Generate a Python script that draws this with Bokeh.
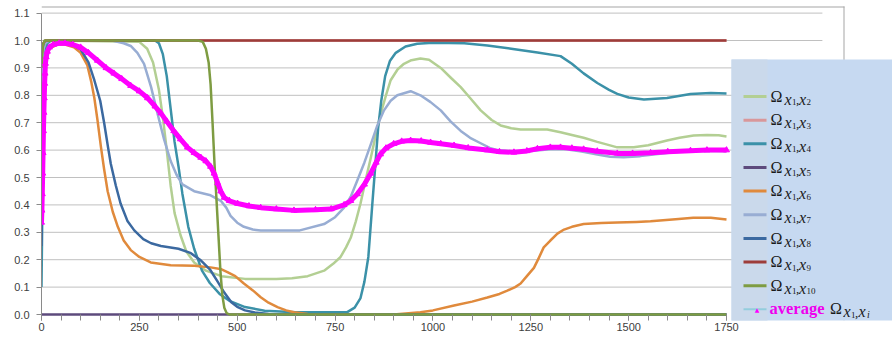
from bokeh.plotting import figure
from bokeh.models import Range1d, FixedTicker, Label, BoxAnnotation, NumeralTickFormatter
from bokeh.embed import file_html
from bokeh.resources import INLINE

# ---------------- data (time step, Omega value) ----------------
x_ticks = [0, 250, 500, 750, 1000, 1250, 1500, 1750]
x_minor = list(range(0, 1751, 50))
y_ticks = [0.0, 0.1, 0.2, 0.3, 0.4, 0.5, 0.6, 0.7, 0.8, 0.9, 1.0, 1.1]

omega_x2 = [(0, 0.82), (5, 0.95), (10, 0.99), (20, 1.0), (250, 0.995), (270, 0.97), (285, 0.92), (300, 0.82),
            (310, 0.72), (320, 0.6), (330, 0.47), (340, 0.37), (355, 0.29), (370, 0.23), (390, 0.19), (420, 0.16),
            (460, 0.14), (520, 0.13), (600, 0.13), (640, 0.132), (680, 0.14), (722, 0.16), (745, 0.185),
            (764, 0.21), (778, 0.245), (790, 0.28), (803, 0.34), (815, 0.405), (828, 0.49), (841, 0.57),
            (854, 0.655), (866, 0.73), (880, 0.8), (892, 0.855), (910, 0.895), (926, 0.915), (945, 0.928),
            (968, 0.934), (990, 0.93), (1020, 0.9), (1045, 0.865), (1071, 0.83), (1095, 0.79), (1122, 0.745),
            (1150, 0.71), (1173, 0.69), (1200, 0.68), (1224, 0.675), (1292, 0.675), (1326, 0.665), (1355, 0.655),
            (1385, 0.645), (1420, 0.63), (1471, 0.61), (1513, 0.61), (1550, 0.618), (1598, 0.635), (1630, 0.645),
            (1666, 0.653), (1700, 0.655), (1730, 0.654), (1750, 0.65)]
omega_x3 = [(0, 0.95), (5, 0.99), (10, 1.0), (1750, 1.0)]
omega_x4 = [(0, 0.1), (3, 0.5), (6, 0.85), (10, 0.96), (15, 0.99), (25, 1.0), (290, 1.0), (300, 0.99), (310, 0.95),
            (320, 0.87), (330, 0.75), (340, 0.63), (350, 0.54), (360, 0.44), (375, 0.32), (390, 0.24), (410, 0.16),
            (430, 0.115), (455, 0.075), (480, 0.05), (520, 0.027), (570, 0.014), (650, 0.008), (780, 0.008),
            (800, 0.025), (815, 0.06), (825, 0.12), (835, 0.21), (845, 0.4), (852, 0.53), (860, 0.68), (868, 0.78),
            (878, 0.87), (890, 0.925), (905, 0.955), (930, 0.978), (960, 0.988), (1000, 0.992), (1080, 0.99),
            (1139, 0.982), (1200, 0.97), (1267, 0.956), (1326, 0.943), (1355, 0.915), (1385, 0.88), (1420, 0.845),
            (1450, 0.82), (1471, 0.805), (1500, 0.792), (1539, 0.785), (1598, 0.79), (1658, 0.805), (1710, 0.808),
            (1750, 0.807)]
omega_x5 = [(0, 0.0), (1750, 0.0)]
omega_x6 = [(0, 0.35), (5, 0.8), (10, 0.93), (20, 0.97), (40, 0.985), (60, 0.985), (83, 0.975), (100, 0.955),
            (117, 0.91), (127, 0.85), (135, 0.79), (143, 0.71), (152, 0.61), (160, 0.53), (169, 0.45), (182, 0.375),
            (195, 0.32), (210, 0.27), (228, 0.235), (250, 0.21), (279, 0.19), (330, 0.18), (390, 0.178),
            (432, 0.172), (460, 0.165), (475, 0.155), (495, 0.14), (517, 0.113), (540, 0.088), (560, 0.063),
            (580, 0.043), (603, 0.027), (625, 0.015), (645, 0.008), (680, 0.002), (720, 0.0), (900, 0.0),
            (968, 0.008), (1000, 0.015), (1054, 0.033), (1100, 0.047), (1139, 0.062), (1170, 0.075), (1190, 0.087),
            (1210, 0.1), (1224, 0.113), (1240, 0.14), (1258, 0.17), (1270, 0.205), (1283, 0.245), (1300, 0.27),
            (1318, 0.295), (1335, 0.31), (1355, 0.32), (1385, 0.33), (1430, 0.334), (1471, 0.336), (1520, 0.338),
            (1556, 0.34), (1620, 0.348), (1665, 0.353), (1710, 0.353), (1750, 0.347)]
omega_x7 = [(0, 0.85), (5, 0.97), (10, 0.99), (20, 1.0), (180, 1.0), (210, 0.99), (228, 0.98), (245, 0.955),
            (262, 0.915), (280, 0.83), (297, 0.73), (313, 0.64), (330, 0.56), (345, 0.51), (360, 0.475),
            (390, 0.45), (432, 0.435), (458, 0.415), (472, 0.39), (483, 0.36), (500, 0.335), (517, 0.32),
            (540, 0.31), (560, 0.307), (660, 0.307), (722, 0.33), (750, 0.355), (773, 0.39), (790, 0.43),
            (807, 0.49), (825, 0.555), (841, 0.62), (858, 0.69), (875, 0.745), (892, 0.78), (909, 0.8),
            (943, 0.815), (968, 0.8), (994, 0.775), (1020, 0.745), (1045, 0.705), (1071, 0.67), (1095, 0.645),
            (1122, 0.625), (1145, 0.608), (1165, 0.6), (1206, 0.595), (1250, 0.597), (1300, 0.603), (1340, 0.603),
            (1380, 0.595), (1420, 0.584), (1453, 0.576), (1487, 0.574), (1530, 0.578), (1580, 0.587),
            (1620, 0.593), (1658, 0.597), (1700, 0.598), (1750, 0.596)]
omega_x8 = [(0, 0.25), (5, 0.75), (10, 0.92), (20, 0.975), (40, 0.99), (70, 0.99), (100, 0.968), (120, 0.92),
            (135, 0.855), (150, 0.78), (160, 0.7), (170, 0.61), (177, 0.55), (190, 0.47), (202, 0.405),
            (220, 0.34), (237, 0.307), (260, 0.275), (280, 0.26), (305, 0.25), (350, 0.24), (380, 0.225),
            (405, 0.2), (430, 0.165), (450, 0.12), (467, 0.08), (485, 0.045), (500, 0.028), (520, 0.015),
            (545, 0.007), (580, 0.002), (620, 0.0), (1750, 0.0)]
omega_x9 = [(0, 0.95), (5, 0.99), (10, 1.0), (1750, 1.0)]
omega_x10 = [(0, 0.9), (3, 0.98), (8, 1.0), (400, 1.0), (412, 0.995), (420, 0.97), (427, 0.92), (432, 0.84),
             (437, 0.7), (442, 0.55), (447, 0.42), (452, 0.29), (457, 0.16), (462, 0.07), (467, 0.025),
             (473, 0.005), (480, 0.0), (1750, 0.0)]
omega_avg = [(0, 0.336), (1, 0.38), (2, 0.44), (3, 0.515), (4, 0.59), (5, 0.67), (6, 0.737), (7, 0.79),
             (8, 0.843), (9, 0.88), (10, 0.916), (12, 0.94), (15, 0.96), (20, 0.975), (30, 0.985), (45, 0.99),
             (60, 0.99), (80, 0.985), (100, 0.975), (120, 0.955), (143, 0.927), (165, 0.9), (185, 0.88),
             (205, 0.86), (228, 0.835), (250, 0.815), (271, 0.79), (290, 0.76), (305, 0.735), (320, 0.705),
             (338, 0.67), (355, 0.64), (373, 0.61), (390, 0.59), (407, 0.573), (420, 0.56), (432, 0.54),
             (441, 0.515), (450, 0.48), (458, 0.45), (467, 0.427), (480, 0.415), (501, 0.405), (530, 0.396),
             (560, 0.39), (600, 0.385), (645, 0.38), (700, 0.382), (740, 0.385), (773, 0.4), (790, 0.415),
             (807, 0.44), (825, 0.475), (841, 0.515), (855, 0.555), (866, 0.585), (880, 0.607), (900, 0.623),
             (920, 0.632), (943, 0.635), (970, 0.633), (994, 0.628), (1020, 0.623), (1054, 0.617), (1090, 0.608),
             (1139, 0.6), (1170, 0.594), (1207, 0.592), (1240, 0.597), (1267, 0.605), (1300, 0.61), (1326, 0.61),
             (1355, 0.607), (1385, 0.603), (1420, 0.596), (1471, 0.588), (1510, 0.588), (1556, 0.59),
             (1600, 0.594), (1658, 0.598), (1700, 0.6), (1750, 0.6)]

series_names = ["2", "3", "4", "5", "6", "7", "8", "9", "10"]
series_data = [omega_x2, omega_x3, omega_x4, omega_x5, omega_x6, omega_x7, omega_x8, omega_x9, omega_x10]
series_colors = ["#b3cf93", "#d9979a", "#3b91a8", "#5d4a7c", "#e08a3c", "#98add3", "#3b69a0", "#9d3d3a", "#7e9c42"]
avg_line_color = "#93cddd"
avg_marker_color = "#ff00ff"

# ---------------- figure ----------------
W, H = 892, 345
MB_LEFT, MB_RIGHT, MB_TOP, MB_BOTTOM = 41, 0, 0, 25
PX_PER_X = 0.39143        # screen px per time step
PX_PER_Y = 274.0          # screen px per unit of Omega
Y0_PAGE = 314             # page y of Omega = 0
frame_w = W - MB_LEFT - MB_RIGHT
frame_h = H - MB_TOP - MB_BOTTOM
y_start = -(MB_TOP + frame_h - Y0_PAGE) / PX_PER_Y
y_end = y_start + frame_h / PX_PER_Y
x_end = frame_w / PX_PER_X
grid_x_end = 1995          # where the horizontal grid lines stop

p = figure(width=W, height=H, output_backend="svg", toolbar_location=None,
           x_range=Range1d(0, x_end), y_range=Range1d(y_start, y_end),
           min_border_left=MB_LEFT, min_border_right=MB_RIGHT,
           min_border_top=MB_TOP, min_border_bottom=MB_BOTTOM)
p.outline_line_color = None
p.background_fill_color = "white"
p.border_fill_color = "white"
p.xgrid.visible = False
p.ygrid.visible = False

p.yaxis.ticker = FixedTicker(ticks=y_ticks)
p.xaxis.ticker = FixedTicker(ticks=x_ticks, minor_ticks=x_minor)
p.xaxis.bounds = (x_ticks[0], x_ticks[-1])
p.yaxis.bounds = (y_ticks[0], y_ticks[-1])
p.yaxis.formatter = NumeralTickFormatter(format="0.0")
axis_grey = "#8a8a8a"
for ax in (p.xaxis, p.yaxis):
    ax.axis_line_color = axis_grey
    ax.major_tick_line_color = axis_grey
    ax.minor_tick_line_color = axis_grey
    ax.major_label_text_font = "Liberation Sans"
    ax.major_label_text_font_size = "11px"
    ax.major_label_text_color = "#404040"
p.yaxis.minor_tick_line_color = None
p.yaxis.major_tick_in = 0
p.yaxis.major_tick_out = 5
p.yaxis.major_label_standoff = 7
# the x axis sits at the frame bottom, a few px below Omega = 0; its ticks reach up to the zero line
p.xaxis.axis_line_color = None
tick_len = int(MB_TOP + frame_h - Y0_PAGE)
p.xaxis.major_tick_in = tick_len
p.xaxis.major_tick_out = 0
p.xaxis.minor_tick_in = tick_len
p.xaxis.minor_tick_out = 0
p.xaxis.major_label_standoff = 2

# horizontal grid lines and the zero axis line
grid_y = y_ticks[1:]
p.segment(x0=[0] * len(grid_y), x1=[grid_x_end] * len(grid_y), y0=grid_y, y1=grid_y,
          line_color="#c0c0c0", line_width=1)
p.segment(x0=[x_ticks[0]], x1=[x_ticks[-1]], y0=[0], y1=[0], line_color=axis_grey, line_width=1)

for data, col in zip(series_data, series_colors):
    xs = [d[0] for d in data]
    ys = [d[1] for d in data]
    p.line(xs, ys, line_color=col, line_width=2.5, line_join="round")

ax_ = [d[0] for d in omega_avg]
ay_ = [d[1] for d in omega_avg]
p.line(ax_, ay_, line_color=avg_line_color, line_width=2)
p.line(ax_, ay_, line_color=avg_marker_color, line_width=5, line_join="round")
p.scatter(ax_, ay_, marker="triangle", size=6, fill_color=avg_marker_color, line_color=avg_marker_color)

# ---------------- chart-area border and legend (placed by page pixel, mapped through the scales) ----------------
FL = MB_LEFT


def dx(px):
    return (px - FL) / PX_PER_X


def dy_(py):
    return (Y0_PAGE - py) / PX_PER_Y


def sbox(x0, x1, y0, y1, color):
    p.add_layout(BoxAnnotation(left=dx(x0), right=dx(x1), top=dy_(y0), bottom=dy_(y1),
                               fill_color=color, fill_alpha=1.0, line_color=None, level="overlay"))


def slabel(px, base_py, text, size_px, color="#1a1a1a", style="normal"):
    # positioned by the text's vertical middle (font box), computed from the wanted baseline
    mid_py = base_py - 0.3375 * size_px
    p.add_layout(Label(x=dx(px), y=dy_(mid_py), text=text,
                       text_font="Liberation Serif", text_font_size=f"{size_px}px", text_font_style=style,
                       text_color=color, text_baseline="middle", text_align="left", level="overlay"))


border = "#a6a6a6"
FRAME_BOTTOM = MB_TOP + frame_h
sbox(FL, 844, 6, 7, border)
sbox(843, 844, 6, FRAME_BOTTOM, border)

sbox(731, W + 5, 59, FRAME_BOTTOM + 2, "#c6d9f1")
sbox(731, 767, 59, FRAME_BOTTOM + 2, "#cad9eb")

row0, row_step = 96.0, 23.65
for i, (name, col) in enumerate(zip(series_names, series_colors)):
    ly = row0 + row_step * i
    sbox(743, 766, ly - 1.5, ly + 1.5, col)
    slabel(770, ly + 5, "Ω", 16)
    slabel(784, ly + 8, "x", 16, style="italic")
    slabel(791.5, ly + 8.5, "1", 9)
    slabel(795.6, ly + 8, ",", 13)
    slabel(798.5, ly + 8, "x", 16, style="italic")
    slabel(806, ly + 8.5, name, 9)

ly = row0 + row_step * 9
sbox(743, 766, ly - 1, ly + 1, avg_line_color)
p.add_layout(Label(x=dx(756.5), y=dy_(ly + 0.5), text="▲",
                   text_font="DejaVu Sans", text_font_size="6px", text_color=avg_marker_color,
                   text_baseline="middle", text_align="center", level="overlay"))
slabel(769, ly + 5, "average", 16.5, color="#ee00ee", style="bold")
slabel(829.5, ly + 5, "Ω", 16)
slabel(843, ly + 8, "x", 16, style="italic")
slabel(850.5, ly + 8.5, "1", 9)
slabel(854.6, ly + 8, ",", 13)
slabel(858, ly + 8, "x", 16, style="italic")
slabel(866.5, ly + 8.5, "i", 10, style="italic")

open("out.html", "w").write(file_html(p, INLINE))
